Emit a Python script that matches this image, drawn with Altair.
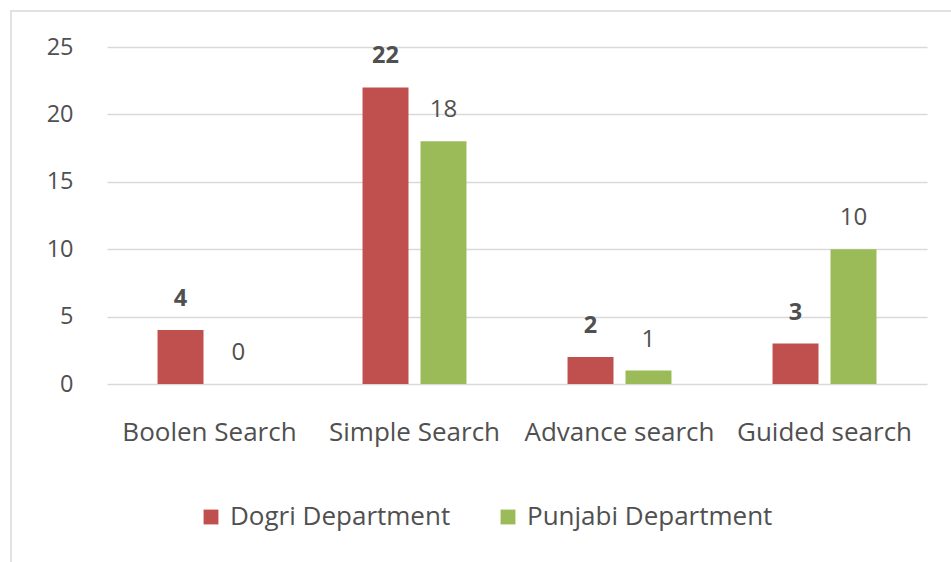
import altair as alt
import pandas as pd

categories = ["Boolen Search", "Simple Search", "Advance search", "Guided search"]
series = ["Dogri Department", "Punjabi Department"]
dogri = [4, 22, 2, 3]
punjabi = [0, 18, 1, 10]
colors = ["#C0504D", "#9BBB59"]

rows = []
for i, c in enumerate(categories):
    rows.append({"cat": c, "dept": series[0], "val": dogri[i]})
    rows.append({"cat": c, "dept": series[1], "val": punjabi[i]})
df = pd.DataFrame(rows)

FONT = "Open Sans"
TXT = "#505050"

x = alt.X("cat:N", sort=categories, title=None,
          scale=alt.Scale(paddingInner=0.493, paddingOuter=0.2465),
          axis=alt.Axis(labelAngle=0, labelFontSize=26, labelColor=TXT, labelFont=FONT,
                        labelPadding=35, ticks=False, domain=False, labelLimit=300))
y = alt.Y("val:Q", title=None,
          scale=alt.Scale(domain=[0, 25]),
          axis=alt.Axis(values=[0, 5, 10, 15, 20, 25], labelFontSize=23.5, labelColor=TXT,
                        labelFont=FONT, labelPadding=34, ticks=False, domain=False,
                        gridColor="#D9D9D9", gridWidth=1.3))
xo = alt.XOffset("dept:N", sort=series, scale=alt.Scale(paddingInner=0.207, paddingOuter=0))
color = alt.Color("dept:N", sort=series, scale=alt.Scale(domain=series, range=colors),
                  legend=alt.Legend(title=None, orient="none", legendX=91, legendY=457,
                                    direction="horizontal", symbolType="square",
                                    symbolSize=220, symbolStrokeWidth=0, labelFontSize=26,
                                    labelFont=FONT, labelColor=TXT, columnPadding=44,
                                    symbolOffset=0, labelOffset=6, labelLimit=400))

base = alt.Chart(df)
bars = base.mark_bar().encode(x=x, y=y, xOffset=xo, color=color)
labels_bold = base.transform_filter(alt.datum.dept == series[0]).mark_text(
    baseline="bottom", dy=-19, fontSize=23.5, font=FONT, color=TXT, fontWeight="bold"
).encode(x=x, y=y, xOffset=xo, text="val:Q")
labels_norm = base.transform_filter(alt.datum.dept == series[1]).mark_text(
    baseline="bottom", dy=-19, fontSize=24, font=FONT, color=TXT
).encode(x=x, y=y, xOffset=xo, text="val:Q")

border = alt.Chart(pd.DataFrame({"a": [0]})).mark_rect(
    fill=None, stroke="#D9D9D9", strokeWidth=1.5
).encode(x=alt.value(-96), x2=alt.value(850), y=alt.value(-36), y2=alt.value(520))

chart = alt.layer(border, bars, labels_bold, labels_norm).properties(
    width=820, height=337,
    padding={"left": 107, "top": 47, "right": 24, "bottom": 178},
    autosize=alt.AutoSizeParams(type="none"),
    background="white",
).configure_view(stroke=None)

chart.save("out.html", embed_options={"renderer": "svg", "actions": False})
